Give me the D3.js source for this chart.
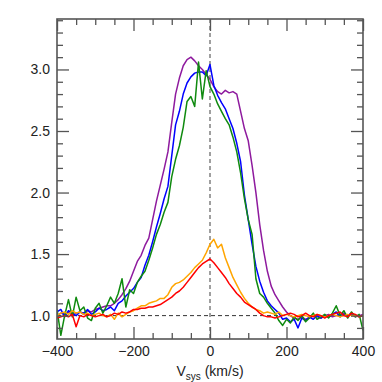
<!DOCTYPE html>
<html>
<head>
<meta charset="utf-8">
<script src="https://cdn.jsdelivr.net/npm/d3@7"></script>
<style>
body { margin: 0; background: #fff; }
text { font-family: "Liberation Sans", Arial, sans-serif; }
</style>
</head>
<body>
<script>
// velocity grid, km/s
var vel = d3.range(-400, 401, 10);

var purple = [1.00,1.02,1.01,1.03,1.00,1.02,1.03,1.01,1.04,1.03,
              1.05,1.06,1.07,1.08,1.08,1.10,1.13,1.17,1.22,1.28,
              1.36,1.44,1.49,1.57,1.63,1.78,1.93,2.06,2.19,2.33,
              2.57,2.80,2.93,3.03,3.08,3.10,3.07,3.03,3.00,2.96,
              2.92,2.86,2.82,2.80,2.83,2.81,2.82,2.80,2.66,2.52,
              2.42,2.22,2.00,1.74,1.53,1.36,1.24,1.17,1.12,1.07,
              1.03,1.00,0.98,0.97,0.99,0.97,0.98,1.00,0.99,0.98,
              1.00,1.01,0.99,1.00,1.01,1.02,1.00,1.01,0.99,1.00,1.01];
var blue = [1.03,1.05,0.99,1.04,1.02,1.00,1.03,1.02,1.05,1.01,
            1.03,1.06,1.04,1.05,1.07,1.04,1.10,1.12,1.16,1.19,
            1.22,1.27,1.31,1.41,1.49,1.60,1.72,1.83,1.95,2.05,
            2.30,2.55,2.66,2.80,2.89,2.94,2.97,2.98,2.98,2.95,
            3.04,2.87,2.79,2.73,2.68,2.60,2.52,2.40,2.25,1.98,
            1.78,1.58,1.40,1.28,1.19,1.12,1.08,1.05,1.02,0.97,
            0.98,0.95,0.97,0.90,0.98,0.96,0.99,0.97,1.00,0.98,
            1.00,0.99,1.01,1.03,0.99,1.01,1.00,1.02,1.00,0.99,1.00];
var green = [1.05,0.84,1.00,1.13,0.99,1.15,1.04,1.07,0.98,0.96,
             1.06,1.10,1.02,1.08,1.15,1.10,1.18,1.30,1.07,1.21,
             1.18,1.27,1.32,1.36,1.45,1.55,1.66,1.74,1.84,1.92,
             2.13,2.27,2.38,2.53,2.74,2.78,2.70,3.06,2.76,2.99,
             2.86,2.80,2.72,2.66,2.60,2.55,2.45,2.33,2.16,1.95,
             1.78,1.66,1.30,1.18,1.15,1.10,1.06,1.02,0.96,0.92,
             0.97,0.94,0.99,0.96,1.00,0.95,0.98,1.02,0.97,0.99,
             1.01,0.98,1.02,1.08,1.00,1.04,0.98,1.03,0.99,1.01,0.88];
var orange = [1.00,1.02,1.03,1.01,1.04,1.02,1.03,1.01,1.02,1.00,
              1.01,1.02,1.00,0.99,1.01,0.97,1.02,0.99,1.01,1.03,
              1.04,1.06,1.08,1.08,1.10,1.11,1.12,1.14,1.14,1.17,
              1.23,1.26,1.27,1.29,1.32,1.35,1.39,1.42,1.45,1.51,
              1.58,1.62,1.55,1.58,1.47,1.39,1.31,1.25,1.19,1.14,
              1.10,1.07,1.05,1.04,1.02,1.03,1.02,1.01,1.03,1.00,
              1.01,1.00,0.99,1.00,1.01,1.00,0.99,1.00,1.01,1.00,
              0.99,1.00,1.01,1.00,0.99,1.00,1.01,1.00,1.00,0.99,1.00];
var red = [0.98,0.99,1.00,0.99,1.01,0.91,1.00,0.99,1.01,1.00,
           0.99,1.00,1.01,0.99,1.00,1.02,1.01,1.03,1.02,1.03,
           1.05,1.05,1.06,1.06,1.07,1.07,1.08,1.09,1.11,1.13,
           1.15,1.18,1.20,1.23,1.27,1.31,1.35,1.39,1.42,1.44,
           1.46,1.43,1.39,1.35,1.31,1.26,1.22,1.18,1.15,1.11,
           1.09,1.07,1.05,1.02,1.00,0.99,0.99,0.98,0.99,1.00,
           1.01,1.02,1.01,0.99,1.00,1.02,1.00,0.99,1.01,1.00,
           0.98,1.00,1.01,1.02,1.03,1.00,0.99,1.02,1.01,0.99,1.00];

var series = [
  {values: purple, color: "#8e1a9e"},
  {values: blue,   color: "#0000ff"},
  {values: green,  color: "#0f8a0f"},
  {values: orange, color: "#ffa500"},
  {values: red,    color: "#ff0000"}
];

var xMajor = [-400, -200, 0, 200, 400];
var yMajor = [1.0, 1.5, 2.0, 2.5, 3.0];

var W = 382, H = 382;
var L = 57, R = 363, T = 19, B = 339;
var axisColor = "#555";

var svg = d3.select("body").append("svg")
            .attr("width", W)
            .attr("height", H);

var x = d3.scaleLinear().domain([-400, 400]).range([L, R]);
var y = d3.scaleLinear().domain([0.81, 3.41]).range([B, T]);

// clip for curves
svg.append("clipPath").attr("id", "clip")
   .append("rect")
   .attr("x", L).attr("y", T).attr("width", R - L).attr("height", B - T);

// reference lines
svg.append("line")
   .attr("x1", x(0)).attr("x2", x(0))
   .attr("y1", T).attr("y2", B)
   .attr("stroke", "#888")
   .attr("stroke-width", 1.6)
   .attr("stroke-dasharray", "4,3");
svg.append("line")
   .attr("x1", L).attr("x2", R)
   .attr("y1", y(1)).attr("y2", y(1))
   .attr("stroke", "#333")
   .attr("stroke-width", 1)
   .attr("stroke-dasharray", "4,3");

var line = d3.line()
             .x(function(d, i) { return x(vel[i]); })
             .y(function(d) { return y(d); });

svg.append("g").attr("clip-path", "url(#clip)")
   .selectAll("path")
   .data(series)
   .enter()
   .append("path")
   .attr("d", function(d) { return line(d.values); })
   .attr("fill", "none")
   .attr("stroke", function(d) { return d.color; })
   .attr("stroke-width", 1.5)
   .attr("stroke-linejoin", "round");

// axes, ticks pointing in
function styleAxis(g) {
  g.select(".domain").remove();
  g.selectAll(".tick line").attr("stroke", axisColor).attr("stroke-width", 1.3);
  g.selectAll(".tick text")
   .attr("fill", "#222")
   .style("font-size", "14px")
   .style("font-family", "'Liberation Sans', Arial, sans-serif");
}
var xMinor = d3.range(-350, 400, 50).filter(function(v) { return xMajor.indexOf(v) < 0; });
var yMinor = d3.range(9, 35).map(function(v) { return v / 10; })
               .filter(function(v) { return v % 0.5 !== 0 && Math.abs(v * 2 - Math.round(v * 2)) > 1e-6; });

svg.append("g").attr("transform", "translate(0," + B + ")")
   .call(d3.axisBottom(x).tickValues(xMajor).tickSize(-12).tickPadding(7).tickFormat(d3.format("d")))
   .call(styleAxis);
svg.append("g").attr("transform", "translate(0," + B + ")")
   .call(d3.axisBottom(x).tickValues(xMinor).tickSize(-6).tickFormat(""))
   .call(styleAxis);
svg.append("g").attr("transform", "translate(0," + T + ")")
   .call(d3.axisTop(x).tickValues(xMajor).tickSize(-12).tickFormat(""))
   .call(styleAxis);
svg.append("g").attr("transform", "translate(0," + T + ")")
   .call(d3.axisTop(x).tickValues(xMinor).tickSize(-6).tickFormat(""))
   .call(styleAxis);

svg.append("g").attr("transform", "translate(" + L + ",0)")
   .call(d3.axisLeft(y).tickValues(yMajor).tickSize(-12).tickPadding(7).tickFormat(d3.format(".1f")))
   .call(styleAxis);
svg.append("g").attr("transform", "translate(" + L + ",0)")
   .call(d3.axisLeft(y).tickValues(yMinor).tickSize(-6).tickFormat(""))
   .call(styleAxis);
svg.append("g").attr("transform", "translate(" + R + ",0)")
   .call(d3.axisRight(y).tickValues(yMajor).tickSize(-12).tickFormat(""))
   .call(styleAxis);
svg.append("g").attr("transform", "translate(" + R + ",0)")
   .call(d3.axisRight(y).tickValues(yMinor).tickSize(-6).tickFormat(""))
   .call(styleAxis);

// frame
svg.append("rect")
   .attr("x", L).attr("y", T)
   .attr("width", R - L).attr("height", B - T)
   .attr("fill", "none")
   .attr("stroke", axisColor)
   .attr("stroke-width", 1.6);

// x label
var xl = svg.append("text")
   .attr("x", x(0))
   .attr("y", 376)
   .attr("text-anchor", "middle")
   .attr("fill", "#222")
   .style("font-size", "14px");
xl.append("tspan").text("V");
xl.append("tspan").attr("dy", 4).style("font-size", "10px").text("sys");
xl.append("tspan").attr("dy", -4).text(" (km/s)");
</script>
</body>
</html>
